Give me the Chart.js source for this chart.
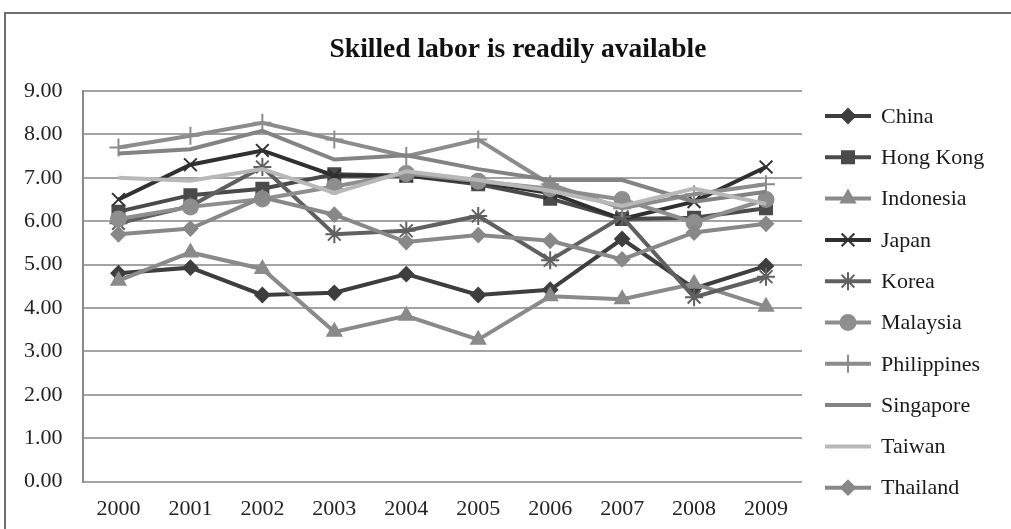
<!DOCTYPE html>
<html lang="en">
<head>
  <meta charset="UTF-8">
  <title>Skilled labor is readily available</title>
  <script src="https://cdn.jsdelivr.net/npm/chart.js"></script>
  <style>
    html, body {
      margin: 0;
      padding: 0;
      background: #fff;
      overflow: hidden;
    }
    #frame {
      position: absolute;
      left: 4px;
      top: 12px;
      width: 1100px;
      height: 600px;
      border: 2px solid #6e6e6e;
    }
    #chartContainer {
      position: absolute;
      left: 0;
      top: 0;
      width: 1011px;
      height: 529px;
    }
  </style>
</head>
<body>
<div id="frame"></div>
<div id="chartContainer">
  <canvas id="laborChart"></canvas>
</div>

<script>
  const chartTitle = 'Skilled labor is readily available';
  const years = ['2000', '2001', '2002', '2003', '2004', '2005', '2006', '2007', '2008', '2009'];
  const yTicks = [0, 1, 2, 3, 4, 5, 6, 7, 8, 9];

  const china       = [4.80, 4.93, 4.30, 4.35, 4.78, 4.30, 4.42, 5.59, 4.45, 4.97];
  const hongKong    = [6.22, 6.60, 6.75, 7.08, 7.05, 6.85, 6.52, 6.05, 6.08, 6.30];
  const indonesia   = [4.63, 5.28, 4.90, 3.45, 3.82, 3.27, 4.27, 4.20, 4.56, 4.03];
  const japan       = [6.50, 7.30, 7.63, 7.05, 7.05, 6.90, 6.65, 6.05, 6.45, 7.25];
  const korea       = [5.95, 6.35, 7.25, 5.70, 5.78, 6.12, 5.10, 6.10, 4.25, 4.72];
  const malaysia    = [6.05, 6.33, 6.51, 6.80, 7.10, 6.92, 6.75, 6.50, 5.97, 6.50];
  const philippines = [7.70, 7.97, 8.27, 7.88, 7.50, 7.88, 6.85, 6.30, 6.62, 6.85];
  const singapore   = [7.56, 7.66, 8.08, 7.42, 7.52, 7.20, 6.95, 6.95, 6.45, 6.68];
  const taiwan      = [7.00, 6.93, 7.20, 6.65, 7.15, 6.95, 6.70, 6.35, 6.75, 6.40];
  const thailand    = [5.70, 5.83, 6.55, 6.15, 5.52, 5.68, 5.55, 5.12, 5.74, 5.94];

  const countries = ['China', 'Hong Kong', 'Indonesia', 'Japan', 'Korea', 'Malaysia',
                     'Philippines', 'Singapore', 'Taiwan', 'Thailand'];
  const values = [china, hongKong, indonesia, japan, korea, malaysia,
                  philippines, singapore, taiwan, thailand];

  // marker look per series (grey-scale print style)
  const styles = [
    { color: '#3e3e3e', point: 'rectRot',  radius: 7 },
    { color: '#4a4a4a', point: 'rect',     radius: 8.5 },
    { color: '#8a8a8a', point: 'triangle', radius: 8 },
    { color: '#303030', point: 'crossRot', radius: 9 },
    { color: '#606060', point: 'star',     radius: 9 },
    { color: '#8e8e8e', point: 'circle',   radius: 7.5 },
    { color: '#8c8c8c', point: 'cross',    radius: 9 },
    { color: '#838383', point: false,      radius: 0 },
    { color: '#b8b8b8', point: false,      radius: 0 },
    { color: '#888888', point: 'rectRot',  radius: 7 }
  ];

  const serif = '"Liberation Serif", "Times New Roman", serif';

  const datasets = countries.map((name, i) => ({
    label: name,
    data: values[i],
    borderColor: styles[i].color,
    backgroundColor: styles[i].color,
    borderWidth: 4,
    pointStyle: styles[i].point,
    pointRadius: styles[i].radius,
    pointBorderWidth: 2,
    pointHoverRadius: styles[i].radius,
    tension: 0,
    // later countries sit on top, as in the printed chart
    order: countries.length - 1 - i
  }));

  // title over the whole frame, and a legend drawn by hand on the right:
  // a line sample with its marker, then the name
  const decor = {
    id: 'decor',
    afterDraw(chart) {
      const ctx = chart.ctx;
      ctx.save();
      ctx.fillStyle = '#111';
      ctx.font = 'bold 27.5px ' + serif;
      ctx.textAlign = 'center';
      ctx.textBaseline = 'middle';
      ctx.fillText(chartTitle, 518, 50);

      ctx.font = '22px ' + serif;
      ctx.textAlign = 'left';
      chart.data.datasets.forEach((ds, i) => {
        const y = 116 + i * 41.3;
        ctx.strokeStyle = ds.borderColor;
        ctx.fillStyle = ds.borderColor;
        ctx.lineWidth = 4;
        ctx.beginPath();
        ctx.moveTo(825, y);
        ctx.lineTo(871, y);
        ctx.stroke();
        if (ds.pointStyle) {
          ctx.lineWidth = 2;
          Chart.helpers.drawPoint(ctx, {
            pointStyle: ds.pointStyle,
            radius: ds.pointRadius,
            borderWidth: 2,
            rotation: 0
          }, 848, y);
        }
        ctx.fillStyle = '#1a1a1a';
        ctx.fillText(ds.label, 881, y + 1);
      });
      ctx.restore();
    }
  };

  const ctx = document.getElementById('laborChart').getContext('2d');
  new Chart(ctx, {
    type: 'line',
    data: { labels: years, datasets: datasets },
    plugins: [decor],
    options: {
      responsive: true,
      maintainAspectRatio: false,
      animation: false,
      layout: {
        padding: { left: 4, right: 209, top: 91, bottom: 0 }
      },
      plugins: {
        legend: { display: false },
        tooltip: { enabled: false },
        title: { display: false }
      },
      scales: {
        x: {
          offset: true,
          grid: { display: false },
          border: { display: false },
          ticks: {
            color: '#222',
            padding: 6.5,
            font: { family: serif, size: 22 }
          }
        },
        y: {
          min: yTicks[0],
          max: yTicks[yTicks.length - 1],
          afterBuildTicks: axis => {
            axis.ticks = yTicks.map(v => ({ value: v }));
          },
          grid: {
            color: '#a3a3a3',
            lineWidth: 2,
            drawTicks: false
          },
          border: { display: true, color: '#8a8a8a', width: 2 },
          ticks: {
            color: '#222',
            padding: 20,
            font: { family: serif, size: 22 },
            callback: v => v.toFixed(2)
          }
        }
      }
    }
  });
</script>
</body>
</html>
